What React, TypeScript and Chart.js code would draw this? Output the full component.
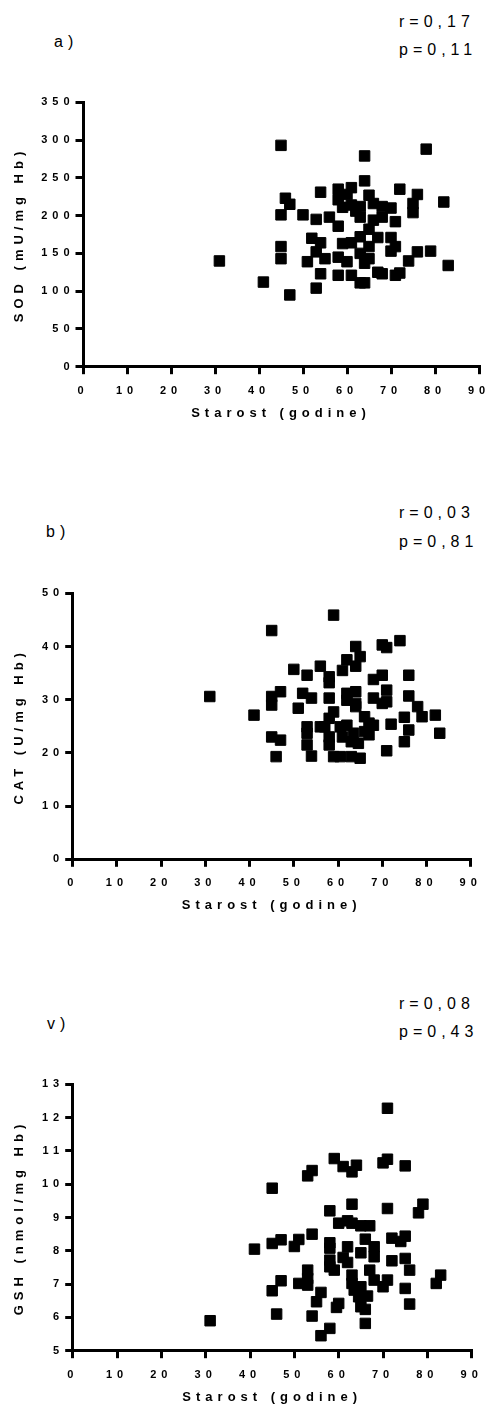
import React, { useEffect, useRef } from 'react';
import { Chart, registerables } from 'chart.js';

Chart.register(...registerables);

// ---------- data ----------
const xAxisTitle = 'Starost (godine)';

const sodAges = [31, 41, 45, 46, 47, 45, 50, 45, 45, 47, 51, 52, 54, 53, 53, 54, 53, 54, 56, 55, 58, 60, 58, 58, 61, 58, 59, 61, 63, 59, 61, 63, 65, 67, 65, 63, 64, 65, 58, 61, 63, 64, 67, 68, 71, 72, 64, 64, 65, 66, 63, 68, 70, 68, 66, 71, 72, 76, 75, 75, 78, 82, 70, 71, 70, 74, 76, 79, 83, 60, 62];
const sodValues = [140, 112, 293, 223, 215, 201, 201, 159, 143, 95, 139, 170, 164, 152, 104, 123, 195, 231, 198, 143, 145, 139, 186, 235, 237, 221, 211, 214, 212, 163, 164, 172, 182, 171, 159, 150, 137, 143, 121, 121, 111, 111, 125, 123, 121, 124, 279, 246, 227, 216, 198, 212, 210, 198, 194, 192, 235, 228, 216, 204, 288, 218, 171, 159, 153, 140, 152, 153, 134, 228, 206];

const catAges = [31, 41, 45, 45, 47, 45, 45, 47, 46, 50, 53, 52, 54, 51, 56, 53, 53, 56, 53, 54, 59, 64, 65, 64, 62, 61, 58, 58, 70, 71, 74, 68, 70, 76, 71, 62, 64, 62, 64, 64, 58, 59, 58, 68, 70, 71, 76, 78, 79, 82, 83, 57, 58, 58, 59, 60.5, 60.5, 62, 61, 63.5, 63, 64.6, 63, 65, 66, 67, 68, 66, 67, 72, 71, 75, 76, 75];
const catValues = [30.6, 27.1, 43, 30.6, 31.5, 29, 23, 22.4, 19.3, 35.7, 34.6, 31.2, 30.3, 28.4, 36.3, 24.9, 23.7, 24.9, 21.5, 19.4, 45.9, 40, 38.1, 36.3, 37.5, 35.5, 34.3, 33.2, 40.3, 39.8, 41.1, 33.8, 34.6, 34.6, 31.8, 31.2, 31.5, 29.9, 29.3, 28.7, 30.3, 27.7, 26.5, 30.3, 29.3, 29.6, 30.7, 28.7, 26.8, 27.1, 23.7, 24.9, 23, 21.5, 19.3, 19.3, 24.9, 25.2, 23, 23.7, 22.1, 21.8, 19.3, 19, 26.8, 25.6, 25.2, 24, 23.4, 25.4, 20.4, 26.7, 24.3, 22.1];

const gshAges = [31, 41, 45, 45, 47, 45, 47, 46, 50, 51, 53, 54, 54, 53, 53, 51, 53, 56, 55, 54, 58, 56, 59, 61, 64, 63, 71, 70, 75, 71, 58, 63, 71, 78, 79, 60, 62, 63, 65, 67, 58, 58, 62, 66, 68, 68, 65, 72, 74, 75, 72, 75, 76, 58, 58, 59, 61, 62, 63, 63, 63.5, 65, 64.5, 66.5, 65, 66, 60, 59.5, 66, 67, 68, 70, 71, 75, 76, 82, 83];
const gshValues = [5.9, 8.05, 9.88, 8.22, 8.33, 6.8, 7.1, 6.1, 8.13, 8.34, 10.25, 10.41, 8.5, 7.42, 7.17, 7.02, 6.97, 6.75, 6.47, 6.04, 5.67, 5.45, 10.77, 10.53, 10.57, 10.37, 10.75, 10.64, 10.55, 12.28, 9.2, 9.4, 9.27, 9.14, 9.4, 8.83, 8.9, 8.83, 8.75, 8.75, 8.24, 8.08, 8.12, 8.35, 8.12, 7.82, 7.94, 8.38, 8.28, 8.44, 7.7, 7.77, 7.42, 7.72, 7.52, 7.42, 7.8, 7.65, 7.27, 7.02, 6.82, 6.92, 6.62, 6.64, 6.32, 6.24, 6.42, 6.3, 5.82, 7.42, 7.12, 6.92, 7.12, 6.87, 6.4, 7.02, 7.27];

// ---------- styling ----------
const FONT = "'Liberation Sans', Arial, Helvetica, sans-serif";
const PAGE_W = 489;

const spacingPlugin = {
  id: 'letterSpacing',
  beforeDraw(chart: any) {
    chart.ctx.letterSpacing = '5px';
  },
};

type PanelCfg = {
  top: number;
  height: number;
  area: { left: number; top: number; right: number; bottom: number };
  ages: number[];
  values: number[];
  yMin: number;
  yMax: number;
  yStep: number;
  yTitle: string;
};

const panels: PanelCfg[] = [
  {
    top: 90, height: 340,
    area: { left: 83, top: 102.3, right: 479, bottom: 366.7 },
    ages: sodAges, values: sodValues, yMin: 0, yMax: 350, yStep: 50,
    yTitle: 'SOD (mU/mg Hb)',
  },
  {
    top: 580, height: 342,
    area: { left: 72.7, top: 593.3, right: 470.7, bottom: 859.3 },
    ages: catAges, values: catValues, yMin: 0, yMax: 50, yStep: 10,
    yTitle: 'CAT (U/mg Hb)',
  },
  {
    top: 1070, height: 344,
    area: { left: 72.7, top: 1084.3, right: 471.7, bottom: 1350.7 },
    ages: gshAges, values: gshValues, yMin: 5, yMax: 13, yStep: 1,
    yTitle: 'GSH (nmol/mg Hb)',
  },
];

function ScatterPanel({ cfg }: { cfg: PanelCfg }) {
  const ref = useRef<HTMLCanvasElement | null>(null);
  useEffect(() => {
    if (!ref.current) return;
    const { area, top, height } = cfg;
    const xHeight = top + height - area.bottom;
    const titleBottomPad = xHeight - 46.3 - 7.8;
    const pts = cfg.ages.map((a, i) => ({ x: a, y: cfg.values[i] }));
    const makeGrid = () => ({
      display: true,
      drawOnChartArea: false,
      drawTicks: true,
      tickLength: 7.5,
      color: '#000',
      lineWidth: 3,
      tickColor: '#000',
      tickWidth: 3,
    });
    const makeBorder = () => ({ display: true, color: '#000', width: 3 });
    const chart = new Chart(ref.current, {
      type: 'scatter',
      data: {
        datasets: [
          {
            data: pts,
            pointStyle: 'rect',
            pointRadius: 7.4,
            pointHoverRadius: 7.4,
            backgroundColor: '#000',
            borderColor: '#000',
            borderWidth: 1,
          },
        ],
      },
      options: {
        responsive: false,
        animation: false,
        devicePixelRatio: 1,
        events: [],
        layout: {
          padding: { left: 0, top: area.top - top, right: PAGE_W - area.right, bottom: 0 },
        },
        plugins: { legend: { display: false }, tooltip: { enabled: false } },
        scales: {
          x: {
            type: 'linear',
            min: 0,
            max: 90,
            grid: makeGrid(),
            border: makeBorder(),
            ticks: {
              stepSize: 10,
              autoSkip: false,
              maxRotation: 0,
              color: '#000',
              padding: 10,
              font: { family: FONT, size: 11, weight: 'bold' },
            },
            title: {
              display: true,
              text: xAxisTitle,
              color: '#000',
              font: { family: FONT, size: 13, weight: 'bold' },
              padding: { top: 0, bottom: titleBottomPad },
            },
            afterFit: (s: any) => {
              s.height = xHeight;
              s.paddingLeft = 0;
              s.paddingRight = 0;
            },
          },
          y: {
            type: 'linear',
            min: cfg.yMin,
            max: cfg.yMax,
            grid: makeGrid(),
            border: makeBorder(),
            ticks: {
              stepSize: cfg.yStep,
              autoSkip: false,
              color: '#000',
              padding: 1,
              font: { family: FONT, size: 11, weight: 'bold' },
            },
            title: {
              display: true,
              text: cfg.yTitle,
              color: '#000',
              font: { family: FONT, size: 13, weight: 'bold' },
              padding: { top: 12, bottom: 0 },
            },
            afterFit: (s: any) => {
              s.width = area.left;
              s.paddingTop = 0;
              s.paddingBottom = 0;
            },
          },
        },
      } as any,
      plugins: [spacingPlugin],
    });
    return () => chart.destroy();
  }, [cfg]);
  return (
    <canvas
      ref={ref}
      width={PAGE_W}
      height={cfg.height}
      style={{ position: 'absolute', left: 0, top: cfg.top, width: PAGE_W, height: cfg.height }}
    />
  );
}

const headerStyle: React.CSSProperties = {
  position: 'absolute',
  fontFamily: FONT,
  fontSize: 16,
  lineHeight: '16px',
  letterSpacing: '5px',
  whiteSpace: 'nowrap',
  color: '#000',
};

type HeaderCfg = { label: string; labelLeft: number; labelTop: number; r: string; p: string; rTop: number; pTop: number };

const headers: HeaderCfg[] = [
  { label: 'a)', labelLeft: 54, labelTop: 33.5, r: 'r=0,17', p: 'p=0,11', rTop: 13.5, pTop: 41.5 },
  { label: 'b)', labelLeft: 46, labelTop: 523.5, r: 'r=0,03', p: 'p=0,81', rTop: 504.5, pTop: 533.5 },
  { label: 'v)', labelLeft: 47, labelTop: 1015.5, r: 'r=0,08', p: 'p=0,43', rTop: 995.5, pTop: 1023.5 },
];

export default function App() {
  return (
    <div style={{ position: 'absolute', left: 0, top: 0, width: PAGE_W, height: 1414, background: '#fff' }}>
      {headers.map((h, i) => (
        <React.Fragment key={i}>
          <span style={{ ...headerStyle, left: h.labelLeft, top: h.labelTop }}>{h.label}</span>
          <span style={{ ...headerStyle, left: 399, top: h.rTop }}>{h.r}</span>
          <span style={{ ...headerStyle, left: 399, top: h.pTop }}>{h.p}</span>
        </React.Fragment>
      ))}
      {panels.map((p, i) => (
        <ScatterPanel key={i} cfg={p} />
      ))}
    </div>
  );
}
